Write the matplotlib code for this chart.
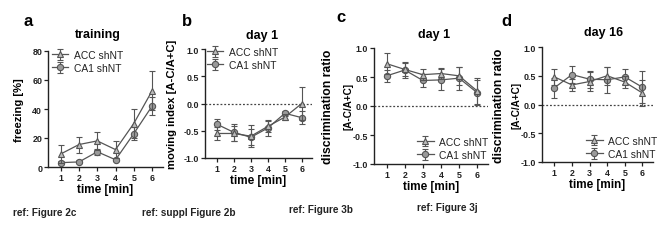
import matplotlib
matplotlib.use("Agg")
import matplotlib.pyplot as plt
import numpy as np

plt.rcParams['font.family'] = ['Liberation Sans', 'DejaVu Sans']
plt.rcParams['axes.unicode_minus'] = False
k = 0.92

time = [1, 2, 3, 4, 5, 6]

a_acc = [9, 15.5, 18, 12, 30, 52.5]
a_acc_err = [6, 5.5, 6, 6, 10, 13.5]
a_ca1 = [3, 3.5, 10.5, 5, 23, 42]
a_ca1_err = [1, 1, 2, 1, 4.5, 6]

b_acc = [-0.55, -0.55, -0.60, -0.42, -0.25, 0.0]
b_acc_err = [0.12, 0.13, 0.20, 0.10, 0.05, 0.30]
b_ca1 = [-0.38, -0.53, -0.62, -0.45, -0.18, -0.26]
b_ca1_err = [0.10, 0.15, 0.15, 0.15, 0.05, 0.12]

c_acc = [0.73, 0.63, 0.54, 0.56, 0.52, 0.26]
c_acc_err = [0.18, 0.12, 0.10, 0.10, 0.15, 0.22]
c_ca1 = [0.52, 0.62, 0.44, 0.45, 0.48, 0.23]
c_ca1_err = [0.10, 0.14, 0.12, 0.18, 0.20, 0.22]

d_acc = [0.48, 0.34, 0.40, 0.50, 0.39, 0.20]
d_acc_err = [0.14, 0.10, 0.17, 0.16, 0.10, 0.23]
d_ca1 = [0.29, 0.52, 0.44, 0.43, 0.48, 0.30]
d_ca1_err = [0.17, 0.15, 0.15, 0.23, 0.13, 0.28]

labels = ["ACC shNT", "CA1 shNT"]
panel_letters = ["a", "b", "c", "d"]
titles = ["training", "day 1", "day 1", "day 16"]
refs = ["ref: Figure 2c", "ref: suppl Figure 2b", "ref: Figure 3b", "ref: Figure 3j"]

W, H = 671, 253
fig = plt.figure(figsize=(W / 100, H / 100), dpi=100)

def rect(l, r, t, b):
    return [l / W, 1 - b / H, (r - l) / W, (b - t) / H]

rects = [rect(48, 163, 52, 168), rect(205, 312, 50, 159),
         rect(374, 488, 49, 165), rect(542, 653, 48, 163)]

data = [(a_acc, a_acc_err, a_ca1, a_ca1_err),
        (b_acc, b_acc_err, b_ca1, b_ca1_err),
        (c_acc, c_acc_err, c_ca1, c_ca1_err),
        (d_acc, d_acc_err, d_ca1, d_ca1_err)]

title_pos = [(98, 35), (262, 36), (434, 35), (604, 33)]
ylab_x = [24, 177, 334, 505]
bracket_x = [None, None, 348, 517]
leg_anchor = [(52, 51, 'upper left'), (207, 48, 'upper left'),
              (488, 161, 'lower right'), (657, 160, 'lower right')]

line_col = '#555555'
for i, (rc, (acc, acce, ca1, ca1e)) in enumerate(zip(rects, data)):
    ax = fig.add_axes(rc)
    ax.errorbar(time, ca1, yerr=ca1e, color=line_col, lw=0.9, marker='o', ms=4.5,
                mfc='#9a9a9a', mec='#555555', mew=0.8, capsize=2.5, elinewidth=0.8,
                capthick=0.8, label=labels[1], zorder=3)
    ax.errorbar(time, acc, yerr=acce, color=line_col, lw=0.9, marker='^', ms=4.2,
                mfc='#bbbbbb', mec='#555555', mew=0.8, capsize=2.5, elinewidth=0.8,
                capthick=0.8, label=labels[0], zorder=4)
    for s in ['top', 'right']:
        ax.spines[s].set_visible(False)
    for s in ['left', 'bottom']:
        ax.spines[s].set_linewidth(1.0)
        ax.spines[s].set_color('#222222')
    ax.set_xlim(0.3, 6.6)
    ax.set_xticks(time)
    ax.tick_params(axis='both', labelsize=6.4, length=3, width=0.9, pad=1.2, colors='#222222')
    ax.set_xlabel('time [min]', fontsize=9.2 * k, fontweight='bold', labelpad=1)
    tx, ty = title_pos[i]
    fig.text(tx / W, 1 - ty / H, titles[i], fontsize=9.8 * k, fontweight='bold',
             ha='center', va='center')
    h, l = ax.get_legend_handles_labels()
    h = [h[1], h[0]]; l = [l[1], l[0]]
    if i == 0:
        ax.set_ylim(0, 80)
        ax.set_yticks([0, 20, 40, 60, 80])
        ax.set_ylabel('freezing [%]', fontsize=8.8 * k, fontweight='bold')
    else:
        ax.set_ylim(-1.0, 1.0)
        ax.set_yticks([-1.0, -0.5, 0.0, 0.5, 1.0])
        ax.yaxis.set_major_formatter(matplotlib.ticker.FormatStrFormatter('%.1f'))
        ax.axhline(0, color='#444444', lw=0.9, ls=(0, (1.5, 1.5)), zorder=1)
        if i == 1:
            ax.set_ylabel('moving index [A-C/A+C]', fontsize=8.8 * k, fontweight='bold')
        else:
            ax.set_ylabel('discrimination ratio', fontsize=9.6 * k, fontweight='bold')
            bx = bracket_x[i]
            fig.text(bx / W, (rc[1] + rc[3] / 2), '[A-C/A+C]', rotation=90,
                     fontsize=7.8 * k, ha='center', va='center', fontweight='bold')
    ax.yaxis.set_label_coords((ylab_x[i] - rc[0] * W) / (rc[2] * W), 0.5)
    for lab in ax.get_xticklabels() + ax.get_yticklabels():
        lab.set_fontweight('bold')
    lx, ly, loc = leg_anchor[i]
    leg = ax.legend(h, l, loc=loc, fontsize=7.4, frameon=False,
                    handlelength=1.6, handletextpad=0.5, borderaxespad=0.0,
                    borderpad=0.0, labelspacing=0.3,
                    bbox_to_anchor=(lx / W, 1 - ly / H), bbox_transform=fig.transFigure)
    for t in leg.get_texts():
        t.set_color('#222222')

letter_pos = [(23, 22), (182, 22), (336, 17), (501, 21)]
for (x, y), ch in zip(letter_pos, panel_letters):
    fig.text(x / W, 1 - y / H, ch, fontsize=13 * k, fontweight='bold', va='center', ha='left')

ref_pos = [(13, 213), (142, 213), (289, 210), (417, 208)]
for (x, y), t in zip(ref_pos, refs):
    fig.text(x / W, 1 - y / H, t, fontsize=7.8 * k, fontweight='bold', va='center', ha='left',
             color='#222222')

fig.savefig('out.png', dpi=100)
